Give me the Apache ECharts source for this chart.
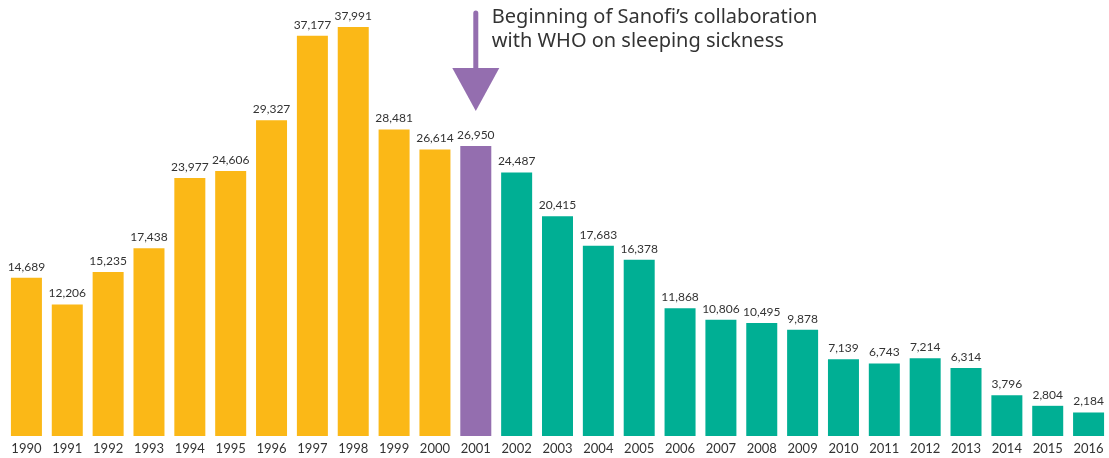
<!DOCTYPE html>
<html><head><meta charset="utf-8">
<script src="https://cdn.jsdelivr.net/npm/echarts@6/dist/echarts.min.js"></script>
<style>html,body{margin:0;padding:0;background:#fff}#c{width:1109px;height:458px}</style>
</head><body><div id="c"></div>
<script>
const years = ['1990','1991','1992','1993','1994','1995','1996','1997','1998','1999','2000','2001','2002','2003','2004','2005','2006','2007','2008','2009','2010','2011','2012','2013','2014','2015','2016'];
const cases = [14689,12206,15235,17438,23977,24606,29327,37177,37991,28481,26614,26950,24487,20415,17683,16378,11868,10806,10495,9878,7139,6743,7214,6314,3796,2804,2184];
const collaborationYear = '2001';
const annotationLines = ['Beginning of Sanofi\u2019s collaboration', 'with WHO on sleeping sickness'];

const COLOR_BEFORE = '#FBB817', COLOR_START = '#946EAF', COLOR_AFTER = '#00AF94';
const FONT = 'Lato, "Noto Sans", sans-serif';
const startIdx = years.indexOf(collaborationYear);

const chart = echarts.init(document.getElementById('c'), null, {renderer: 'canvas'});
chart.setOption({
  animation: false,
  grid: {left: 6, right: -1, top: 5.4, bottom: 22, containLabel: false},
  xAxis: {
    type: 'category', data: years,
    axisLine: {show: false}, axisTick: {show: false},
    axisLabel: {color: '#333', fontSize: 13, fontFamily: FONT, margin: 6, interval: 0}
  },
  yAxis: {type: 'value', min: 0, max: 40000, show: false, splitLine: {show: false}},
  series: [{
    type: 'bar', barWidth: 31,
    data: cases.map((v, i) => ({
      value: v,
      itemStyle: {color: i < startIdx ? COLOR_BEFORE : (i === startIdx ? COLOR_START : COLOR_AFTER)}
    })),
    label: {
      show: true, position: 'top', distance: 5, color: '#333', fontSize: 12, fontFamily: FONT,
      formatter: p => p.value.toLocaleString('en-US')
    }
  }]
});

// annotation arrow anchored on the collaboration year's category position
const ax = chart.convertToPixel({xAxisIndex: 0}, collaborationYear);
chart.setOption({
  graphic: [
    {type: 'line', shape: {x1: ax, y1: 13, x2: ax, y2: 72}, style: {stroke: COLOR_START, lineWidth: 5, lineCap: 'round'}},
    {type: 'polygon', shape: {points: [[ax - 23.5, 68], [ax + 23.5, 68], [ax, 111]]}, style: {fill: COLOR_START}},
    {type: 'text', left: ax + 16, top: 5, style: {text: annotationLines.join('\n'), fill: '#333', font: '20px "Noto Sans", sans-serif', lineHeight: 24}}
  ]
});
</script></body></html>
